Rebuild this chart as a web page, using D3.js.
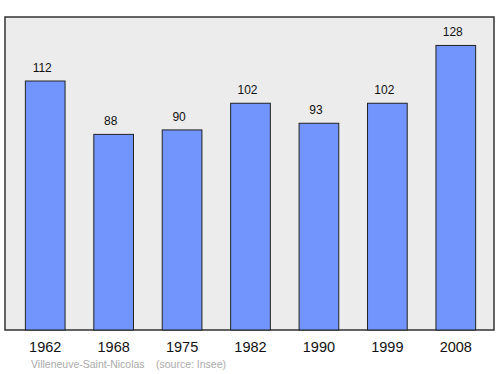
<!DOCTYPE html>
<html>
<head>
<meta charset="utf-8">
<script src="https://cdn.jsdelivr.net/npm/d3@7"></script>
<style>
  body { margin: 0; background: #fff; }
  text { font-family: "Liberation Sans", Arial, sans-serif; }
</style>
</head>
<body>
<div id="chart-container"></div>
<script>
// Population data
const years = ["1962", "1968", "1975", "1982", "1990", "1999", "2008"];
const population = [112, 88, 90, 102, 93, 102, 128];
const commune = "Villeneuve-Saint-Nicolas";
const source = "(source: Insee)";

const width = 500, height = 374;
const frame = { left: 5, top: 17, right: 494, bottom: 330 };

const svg = d3.select("#chart-container")
  .append("svg")
  .attr("width", width)
  .attr("height", height);

// Background frame
svg.append("rect")
  .attr("x", frame.left)
  .attr("y", frame.top)
  .attr("width", frame.right - frame.left)
  .attr("height", frame.bottom - frame.top)
  .attr("fill", "#ececec")
  .attr("stroke", "#333")
  .attr("stroke-width", 1.5);

const x = d3.scaleBand()
  .domain(years)
  .range([11, 490])
  .paddingInner(0.42)
  .paddingOuter(0.21);

const y = d3.scaleLinear()
  .domain([0, d3.max(population) * 1.1])
  .range([frame.bottom, frame.top]);

const data = years.map((yr, i) => ({ year: yr, value: population[i] }));

// Bars
svg.selectAll(".bar")
  .data(data)
  .enter().append("rect")
  .attr("class", "bar")
  .attr("x", d => x(d.year))
  .attr("y", d => y(d.value))
  .attr("width", x.bandwidth())
  .attr("height", d => y(0) - y(d.value))
  .attr("fill", "#7195fd")
  .attr("stroke", "#222")
  .attr("stroke-width", 1);

// Value labels (sit a little left of the bar centre)
svg.selectAll(".val")
  .data(data)
  .enter().append("text")
  .attr("class", "val")
  .attr("x", d => x(d.year) + x.bandwidth() / 2 - 3)
  .attr("y", d => y(d.value) - 9)
  .attr("text-anchor", "middle")
  .style("font-size", "12px")
  .attr("fill", "#111")
  .text(d => d.value);

// Year labels
svg.selectAll(".year")
  .data(data)
  .enter().append("text")
  .attr("class", "year")
  .attr("x", d => x(d.year) + x.bandwidth() / 2)
  .attr("y", 352)
  .attr("text-anchor", "middle")
  .style("font-size", "14.5px")
  .attr("fill", "#111")
  .text(d => d.year);

// Footer
svg.append("text")
  .attr("x", 31)
  .attr("y", 368)
  .style("font-size", "10.5px")
  .attr("fill", "#aaa")
  .text(commune);

svg.append("text")
  .attr("x", 156)
  .attr("y", 368)
  .style("font-size", "10.5px")
  .attr("fill", "#aaa")
  .text(source);
</script>
</body>
</html>
